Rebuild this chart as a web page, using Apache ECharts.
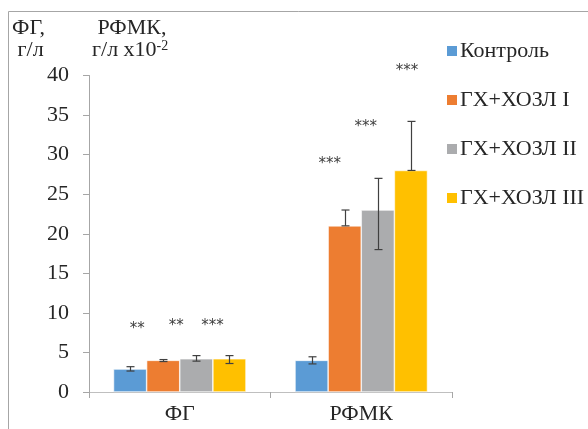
<!DOCTYPE html>
<html><head><meta charset="utf-8">
<script src="https://cdn.jsdelivr.net/npm/echarts@6/dist/echarts.min.js"></script>
<style>html,body{margin:0;padding:0;background:#fff}#c{width:588px;height:429px}</style>
</head><body><div id="c"></div>
<script>
// ---- data ----
const categories = ['ФГ', 'РФМК'];
const seriesNames = ['Контроль', 'ГХ+ХОЗЛ I', 'ГХ+ХОЗЛ II', 'ГХ+ХОЗЛ III'];
const control = [2.9, 4.0];
const group1 = [4.0, 21.0];
const group2 = [4.2, 23.0];
const group3 = [4.2, 28.0];
// error bar ends [low, high] per category
const controlErr = [[2.65, 3.2], [3.55, 4.45]];
const group1Err = [[3.85, 4.1], [21.0, 23.0]];
const group2Err = [[3.9, 4.6], [18.0, 27.0]];
const group3Err = [[3.6, 4.6], [28.0, 34.2]];
// significance marks: text and level (y value) per category for groups 1..3
const starText = [['**', '**', '***'], ['***', '***', '***']];
const starLevel = [[8.5, 8.85, 8.85], [29.3, 34.0, 41.0]];
const yTicks = [0, 5, 10, 15, 20, 25, 30, 35, 40];

// ---- layout/style ----
const colors = ['#5B9BD5', '#ED7D31', '#ABACAE', '#FFC000'];
const starDx = [[-26, -20, -17], [-15, -12, -4]];
const CAT_GAP = 0.27;
const SERIF = '"Liberation Serif", "Times New Roman", Times, serif';

const values = [control, group1, group2, group3];
const errs = [controlErr, group1Err, group2Err, group3Err];

function barCenter(api, cat, si) {
  const band = api.size([1, 0])[0];
  const total = band * (1 - CAT_GAP);
  const bw = total / 4;
  return api.coord([cat, 0])[0] - total / 2 + bw * (si + 0.5);
}

const errData = [];
errs.forEach((e, si) => e.forEach((r, ci) => errData.push([ci, r[0], r[1], si])));
const starData = [];
starLevel.forEach((row, ci) => row.forEach((lv, k) => starData.push([ci, lv, k + 1, starDx[ci][k], starText[ci][k]])));

const series = seriesNames.map((n, si) => ({
  name: n, type: 'bar', data: values[si], barGap: '0%', barCategoryGap: (CAT_GAP * 100) + '%',
  itemStyle: { color: colors[si], borderColor: '#ffffff', borderWidth: 0.6 }, z: 2
}));
series.push({
  type: 'custom', name: 'err', z: 5, silent: true, data: errData,
  renderItem: function (params, api) {
    const ci = api.value(0), lo = api.value(1), hi = api.value(2), si = api.value(3);
    const x = Math.round(barCenter(api, ci, si)) + 0.5;
    const y1 = api.coord([ci, lo])[1], y2 = api.coord([ci, hi])[1];
    const cw = 4;
    const st = { stroke: '#404040', lineWidth: 1.2 };
    return { type: 'group', children: [
      { type: 'line', shape: { x1: x, y1: y1, x2: x, y2: y2 }, style: st },
      { type: 'line', shape: { x1: x - cw, y1: y1, x2: x + cw, y2: y1 }, style: st },
      { type: 'line', shape: { x1: x - cw, y1: y2, x2: x + cw, y2: y2 }, style: st }
    ]};
  }
});
series.push({
  type: 'custom', name: 'stars', z: 5, silent: true, clip: false, data: starData,
  renderItem: function (params, api) {
    const d = starData[params.dataIndex];
    const x = barCenter(api, d[0], d[2]) + d[3];
    const y = api.coord([d[0], d[1]])[1];
    return { type: 'text', x: x, y: y + 4, style: {
      text: d[4], align: 'center', verticalAlign: 'middle',
      fontFamily: 'DejaVu Sans', fontSize: 15, fill: '#404040' } };
  }
});

const chart = echarts.init(document.getElementById('c'), null, { renderer: 'canvas' });
chart.setOption({
  animation: false,
  backgroundColor: '#ffffff',
  grid: { left: 89, right: 136, top: 75.5, bottom: 37 },
  legend: {
    data: seriesNames, orient: 'vertical', left: 440, top: 35,
    itemWidth: 12, itemHeight: 12, itemGap: 27, icon: 'rect',
    textStyle: { fontFamily: SERIF, fontSize: 22, color: '#262626', padding: [0, 0, 0, -3] }
  },
  xAxis: {
    type: 'category', data: categories,
    axisLine: { lineStyle: { color: '#BFBFBF', width: 1.2 } },
    axisTick: { show: true, length: 6, lineStyle: { color: '#A6A6A6' } },
    axisLabel: { fontFamily: SERIF, fontSize: 22, color: '#262626', margin: 11 }
  },
  yAxis: {
    type: 'value', min: yTicks[0], max: yTicks[yTicks.length - 1], interval: yTicks[1] - yTicks[0],
    splitLine: { show: false },
    axisLine: { show: true, lineStyle: { color: '#A6A6A6' } },
    axisTick: { show: true, length: 6, lineStyle: { color: '#A6A6A6' } },
    axisLabel: { fontFamily: SERIF, fontSize: 22, color: '#262626', margin: 20 }
  },
  graphic: [
    { type: 'rect', shape: { x: 8.5, y: 11.5, width: 800, height: 600 }, style: { fill: 'none', stroke: '#A6A6A6', lineWidth: 1 }, silent: true },
    { type: 'text', left: 12, top: 17, style: { text: 'ФГ,\n г/л', fontFamily: SERIF, fontSize: 22, lineHeight: 22, fill: '#262626' } },
    { type: 'text', left: 92, top: 17, style: {
      text: ' РФМК,\n{n|г/л x10}{s|-2}',
      fontFamily: SERIF, fontSize: 22, lineHeight: 22, fill: '#262626',
      rich: { n: { fontFamily: SERIF, fontSize: 22, fill: '#262626', verticalAlign: 'bottom' },
              s: { fontFamily: SERIF, fontSize: 14, fill: '#262626', verticalAlign: 'top', padding: [0, 0, 8, 0] } } } }
  ],
  series: series
});
</script>
</body></html>
